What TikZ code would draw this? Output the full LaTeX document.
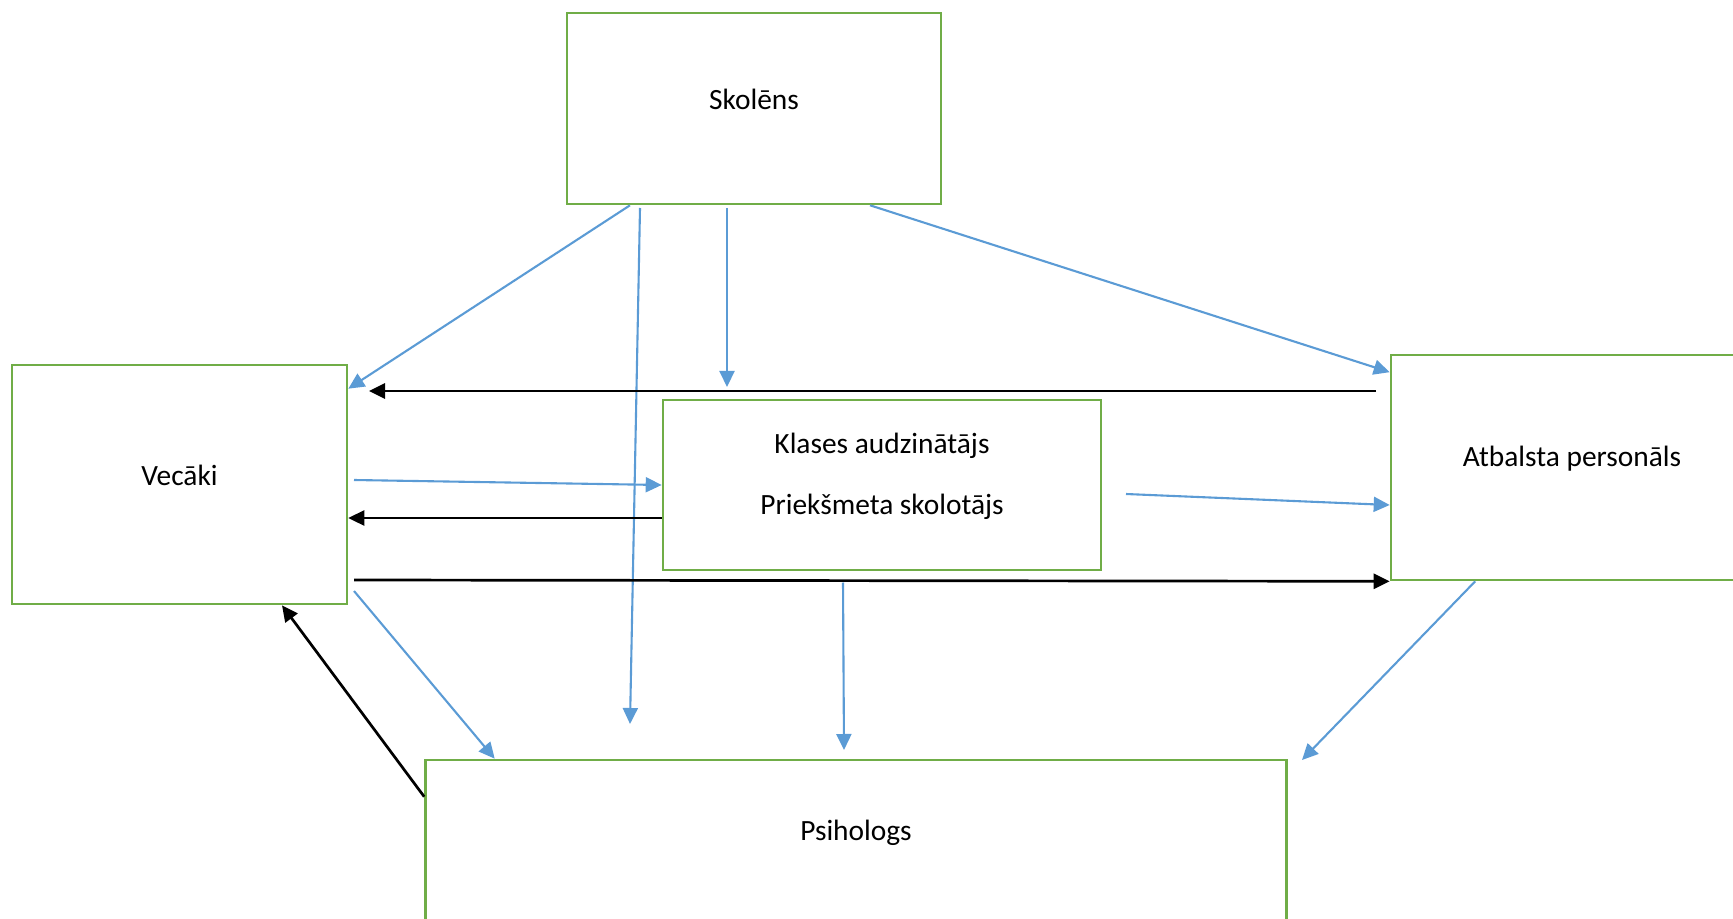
\documentclass[tikz,border=0pt]{standalone}
\usepackage{fontspec}
\setmainfont{Carlito}
\usetikzlibrary{calc, arrows.meta}
\definecolor{boxgreen}{HTML}{70AD47}
\definecolor{linkblue}{HTML}{5B9BD5}

\begin{document}
\begin{tikzpicture}[x=0.5pt, y=-0.5pt,
    box/.style={draw=boxgreen, line width=1.3pt, inner sep=0pt},
    txt/.style={font=\fontsize{14.7}{18}\selectfont, yshift=4.5pt, align=center},
    bluearrow/.style={draw=linkblue, line width=1.05pt, -{Triangle[length=8pt, width=7.5pt]}},
    blackarrow/.style={draw=black, line width=1.35pt, -{Triangle[length=8pt, width=7.5pt]}}]
    \useasboundingbox (0,0) rectangle (1733,919);

    \node[box, minimum width=187pt, minimum height=95.5pt,
        label={[txt]center:Skolēns}] (skol) at (754,108.5) {};
    \node[box, minimum width=167.5pt, minimum height=119.5pt,
        label={[txt]center:Vecāki}] (vec) at (179.5,484.5) {};
    \node[box, minimum width=219pt, minimum height=85pt,
        label={[txt]center:{Klases audzinātājs\\[12.5pt]Priekšmeta skolotājs}}] (kla) at (882,485) {};
    \node[box, minimum width=181pt, minimum height=112.5pt,
        label={[txt]center:Atbalsta personāls}] (atb) at (1572,467.5) {};
    \node[box, minimum width=430.5pt, minimum height=82pt,
        label={[txt]center:Psihologs}] (psi) at (856,842) {};

    \coordinate (s2) at (640,208);
    \coordinate (e2) at (630,724);
    \coordinate (s3) at (727,208);
    \coordinate (e3) at (727,387);
    \coordinate (s5) at (354,480);
    \coordinate (s6) at (1126,494);
    \coordinate (s7) at (843,582.5);
    \coordinate (e7) at (844,750);
    \coordinate (s8) at (354,591);
    \coordinate (e9) at (1302,760);
    \coordinate (sa) at (1376,391);
    \coordinate (ea) at (369,391);
    \coordinate (sc) at (354,580);

    \draw[bluearrow] ($(skol.south)+(-124,0)$) -- ($(vec.north east)+(0,25)$);
    \draw[bluearrow] (s2) -- (e2);
    \draw[bluearrow] (s3) -- (e3);
    \draw[bluearrow] ($(skol.south)+(116,0)$) -- ($(atb.north west)+(0,18.5)$);
    \draw[bluearrow] (s5) -- (kla.west);
    \draw[bluearrow] (s6) -- ($(atb.west)+(0,37.5)$);
    \draw[bluearrow] (s7) -- (e7);
    \draw[bluearrow] (s8) -- ($(psi.north west)+(70.5,0)$);
    \draw[bluearrow] ($(atb.south west)+(85.5,0)$) -- (e9);

    \draw[blackarrow] (sa) -- (ea);
    \draw[blackarrow] ($(kla.west)+(0,33)$) -- ($(vec.east)+(0,33.5)$);
    \draw[blackarrow] (sc) -- (atb.south west);
    \draw[blackarrow] ($(psi.north west)+(0,38)$) -- ($(vec.south)+(102.5,0)$);
\end{tikzpicture}
\end{document}
